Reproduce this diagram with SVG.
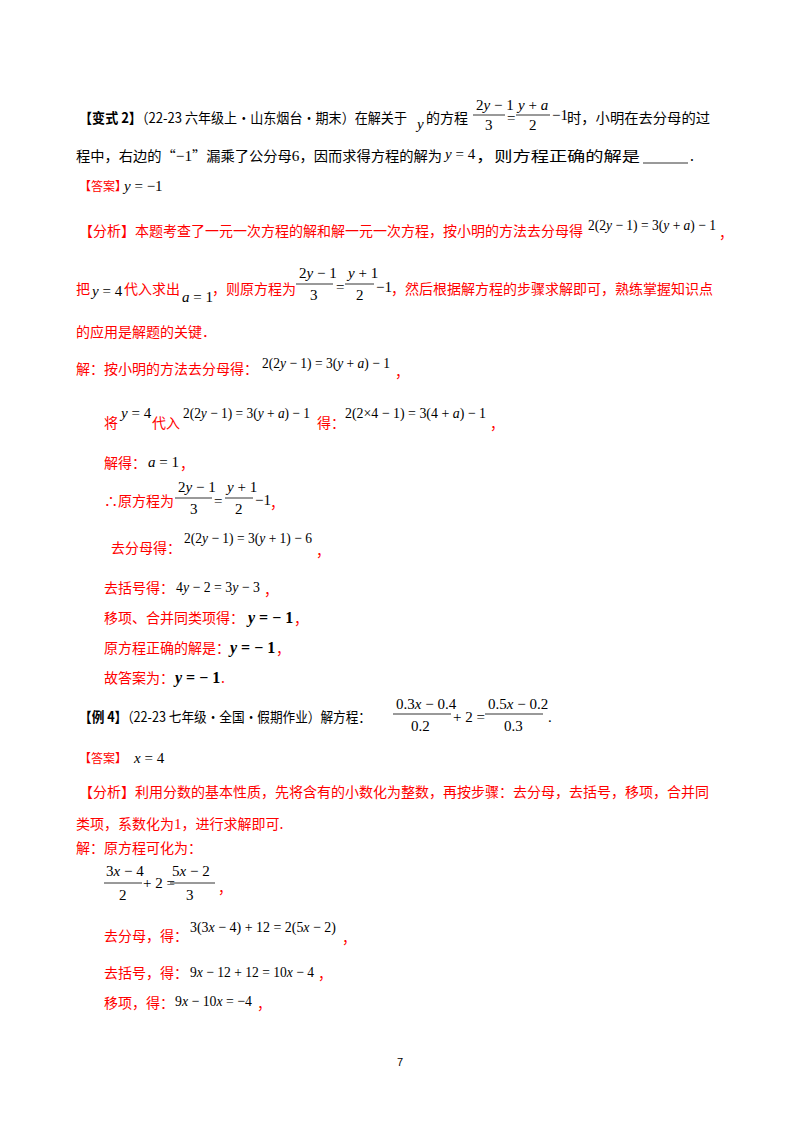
<svg xmlns="http://www.w3.org/2000/svg" width="800" height="1132" viewBox="0 0 800 1132">
<style>
text{font-family:"Noto Sans CJK SC","Liberation Serif",serif;font-size:14px;fill:#000}
.r{fill:#ff0000}
.b{font-weight:bold}
.s{font-size:12px}
.m{font-family:"Liberation Serif",serif;font-size:15px}
.i{font-style:italic}
.mb{font-family:"Liberation Serif",serif;font-size:16px;font-weight:bold}
line{stroke:#000;stroke-width:0.8}
</style>
<rect width="800" height="1132" fill="#fff"/>
<text x="79" y="123" textLength="328" lengthAdjust="spacingAndGlyphs"><tspan class="b">【变式 2】</tspan>（22-23 六年级上·山东烟台·期末）在解关于</text>
<text x="417" y="129" class="m i">y</text>
<text x="426" y="123">的方程</text>
<text x="476" y="110" class="m">2<tspan class="i">y</tspan> − 1</text><line x1="473" y1="115" x2="505" y2="115"/><text x="485" y="130" class="m">3</text>
<text x="507" y="123" class="m">=</text>
<text x="518" y="110" class="m"><tspan class="i">y</tspan> + <tspan class="i">a</tspan></text><line x1="516" y1="115" x2="550" y2="115"/><text x="529" y="130" class="m">2</text>
<text x="552" y="120" class="m">−1</text>
<text x="567" y="123" textLength="143" lengthAdjust="spacingAndGlyphs">时，小明在去分母的过</text>
<text x="76" y="161" textLength="366" lengthAdjust="spacingAndGlyphs">程中，右边的“<tspan class="m">−1</tspan>”漏乘了公分母<tspan class="m">6</tspan>，因而求得方程的解为</text>
<text x="445" y="159" class="m"><tspan class="i">y</tspan> = 4</text>
<text x="476" y="161" textLength="164" lengthAdjust="spacingAndGlyphs">，则方程正确的解是</text>
<line x1="643" y1="163" x2="688" y2="163"/><text x="690" y="161">.</text>
<text x="79" y="191" class="r s">【答案】</text><text x="124" y="191" class="m i">y<tspan font-style="normal"> = −1</tspan></text>
<text x="79" y="236" class="r">【分析】本题考查了一元一次方程的解和解一元一次方程，按小明的方法去分母得</text>
<text x="588" y="230" class="m" textLength="128" lengthAdjust="spacingAndGlyphs">2(2<tspan class="i">y</tspan> − 1) = 3(<tspan class="i">y</tspan> + <tspan class="i">a</tspan>) − 1</text><text x="719" y="238" class="r">，</text>
<text x="76" y="294" class="r">把</text><text x="92" y="296" class="m"><tspan class="i">y</tspan> = 4</text>
<text x="124" y="294" class="r">代入求出</text><text x="182" y="302" class="m"><tspan class="i">a</tspan> = 1</text>
<text x="212" y="294" class="r">，则原方程为</text>
<text x="299" y="278" class="m">2<tspan class="i">y</tspan> − 1</text><line x1="296" y1="284" x2="333" y2="284"/><text x="310" y="300" class="m">3</text>
<text x="336" y="292" class="m">=</text>
<text x="348" y="278" class="m"><tspan class="i">y</tspan> + 1</text><line x1="345" y1="284" x2="374" y2="284"/><text x="356" y="300" class="m">2</text>
<text x="376" y="292" class="m">−1</text>
<text x="391" y="294" class="r">，然后根据解方程的步骤求解即可，熟练掌握知识点</text>
<text x="76" y="337" class="r">的应用是解题的关键．</text>
<text x="76" y="374" class="r">解：按小明的方法去分母得：</text>
<text x="262" y="368" class="m" textLength="128" lengthAdjust="spacingAndGlyphs">2(2<tspan class="i">y</tspan> − 1) = 3(<tspan class="i">y</tspan> + <tspan class="i">a</tspan>) − 1</text><text x="395" y="377" class="r">，</text>
<text x="104" y="428" class="r">将</text><text x="121" y="418" class="m"><tspan class="i">y</tspan> = 4</text>
<text x="152" y="428" class="r">代入</text>
<text x="183" y="418" class="m" textLength="127" lengthAdjust="spacingAndGlyphs">2(2<tspan class="i">y</tspan> − 1) = 3(<tspan class="i">y</tspan> + <tspan class="i">a</tspan>) − 1</text>
<text x="317" y="428" class="r">得：</text>
<text x="345" y="418" class="m" textLength="141" lengthAdjust="spacingAndGlyphs">2(2×4 − 1) = 3(4 + <tspan class="i">a</tspan>) − 1</text><text x="490" y="429" class="r">，</text>
<text x="104" y="468" class="r">解得：</text><text x="148" y="467" class="m"><tspan class="i">a</tspan> = 1</text><text x="180" y="469" class="r">，</text>
<text x="104" y="506" class="r">∴原方程为</text>
<text x="178" y="492" class="m">2<tspan class="i">y</tspan> − 1</text><line x1="175" y1="498" x2="212" y2="498"/><text x="190" y="514" class="m">3</text>
<text x="214" y="506" class="m">=</text>
<text x="227" y="492" class="m"><tspan class="i">y</tspan> + 1</text><line x1="225" y1="498" x2="253" y2="498"/><text x="235" y="514" class="m">2</text>
<text x="255" y="505" class="m">−1</text><text x="270" y="508" class="r">，</text>
<text x="111" y="553" class="r">去分母得：</text>
<text x="184" y="543" class="m" textLength="128" lengthAdjust="spacingAndGlyphs">2(2<tspan class="i">y</tspan> − 1) = 3(<tspan class="i">y</tspan> + 1) − 6</text><text x="316" y="556" class="r">，</text>
<text x="104" y="593" class="r">去括号得：</text><text x="176" y="592" class="m" textLength="84" lengthAdjust="spacingAndGlyphs">4<tspan class="i">y</tspan> − 2 = 3<tspan class="i">y</tspan> − 3</text><text x="264" y="595" class="r">，</text>
<text x="104" y="623" class="r">移项、合并同类项得：</text><text x="248" y="623" class="mb"><tspan font-style="italic">y</tspan> = − 1</text><text x="294" y="624" class="r">，</text>
<text x="104" y="653" class="r">原方程正确的解是：</text><text x="230" y="653" class="mb"><tspan font-style="italic">y</tspan> = − 1</text><text x="276" y="654" class="r">，</text>
<text x="104" y="683" class="r">故答案为：</text><text x="175" y="683" class="mb"><tspan font-style="italic">y</tspan> = − 1</text><text x="221" y="683" class="r">.</text>
<text x="79" y="722" textLength="292" lengthAdjust="spacingAndGlyphs"><tspan class="b">【例 4】</tspan>（22-23 七年级·全国·假期作业）解方程：</text>
<text x="396" y="709" class="m">0.3<tspan class="i">x</tspan> − 0.4</text><line x1="393" y1="714" x2="451" y2="714"/><text x="411" y="731" class="m">0.2</text>
<text x="453" y="722" class="m">+ 2 =</text>
<text x="488" y="709" class="m">0.5<tspan class="i">x</tspan> − 0.2</text><line x1="485" y1="714" x2="543" y2="714"/>
<text x="504" y="731" class="m">0.3</text><text x="548" y="722" class="m">.</text>
<text x="79" y="763" class="r s">【答案】</text><text x="134" y="763" class="m i">x<tspan font-style="normal"> = 4</tspan></text>
<text x="79" y="797" class="r">【分析】利用分数的基本性质，先将含有的小数化为整数，再按步骤：去分母，去括号，移项，合并同</text>
<text x="76" y="829" class="r">类项，系数化为<tspan class="m">1</tspan>，进行求解即可.</text>
<text x="76" y="853" class="r">解：原方程可化为：</text>
<text x="106" y="876" class="m">3<tspan class="i">x</tspan> − 4</text><line x1="104" y1="883" x2="142" y2="883"/><text x="119" y="900" class="m">2</text>
<text x="143" y="888" class="m">+ 2 =</text>
<text x="172" y="876" class="m">5<tspan class="i">x</tspan> − 2</text><line x1="170" y1="883" x2="215" y2="883"/><text x="186" y="900" class="m">3</text>
<text x="218" y="893" class="r">，</text>
<text x="104" y="941" class="r">去分母，得：</text>
<text x="190" y="932" class="m" textLength="146" lengthAdjust="spacingAndGlyphs">3(3<tspan class="i">x</tspan> − 4) + 12 = 2(5<tspan class="i">x</tspan> − 2)</text><text x="342" y="943" class="r">，</text>
<text x="104" y="978" class="r">去括号，得：</text><text x="190" y="977" class="m" textLength="124" lengthAdjust="spacingAndGlyphs">9<tspan class="i">x</tspan> − 12 + 12 = 10<tspan class="i">x</tspan> − 4</text><text x="318" y="979" class="r">，</text>
<text x="104" y="1008" class="r">移项，得：</text><text x="175" y="1006" class="m" textLength="77" lengthAdjust="spacingAndGlyphs">9<tspan class="i">x</tspan> − 10<tspan class="i">x</tspan> = −4</text><text x="257" y="1009" class="r">，</text>
<text x="400" y="1066" text-anchor="middle" style="font-family:'Liberation Sans',sans-serif;font-size:11px">7</text>
</svg>
